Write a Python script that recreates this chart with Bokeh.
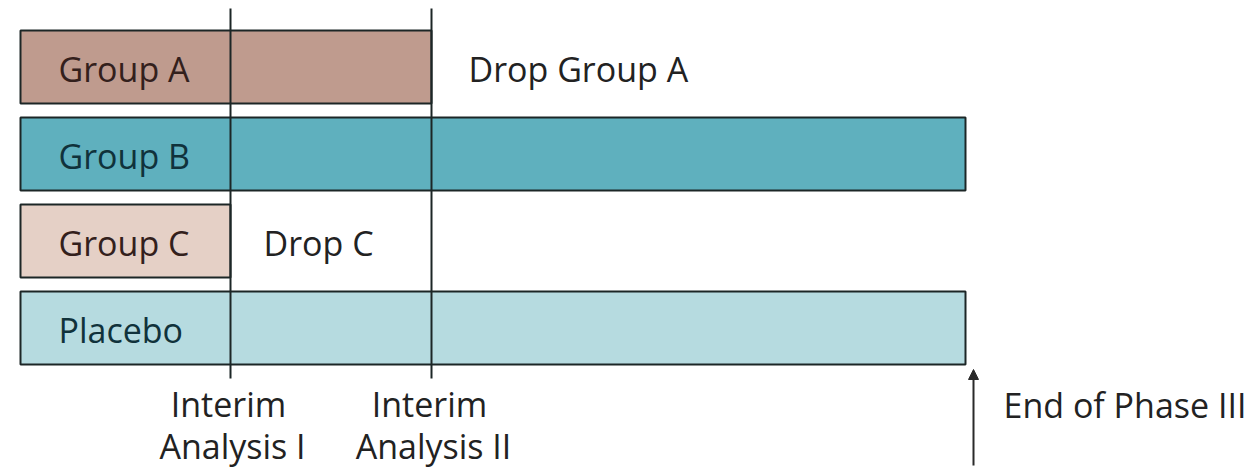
from bokeh.plotting import figure
from bokeh.models import Range1d, ColumnDataSource, Arrow, NormalHead
from bokeh.core.properties import value
from bokeh.embed import file_html
from bokeh.resources import INLINE

# Data (x in timeline units, 0 = start)
groups = ["Group A", "Group B", "Group C", "Placebo"]
starts = [0, 0, 0, 0]
ends = [411, 945, 210, 945]
rows = [66.5, 153.5, 240.5, 327.5]
fills = ["#bf9b8e", "#5fb0be", "#e5d0c6", "#b6dbe0"]
text_colors = ["#33201c", "#10323b", "#33201c", "#10323b"]

interims = [210, 411]
interim_line1 = ["Interim", "Interim"]
interim_line2 = ["Analysis I", "Analysis II"]
end_of_phase = 953
end_label = "End of Phase III"
drop_labels = ["Drop Group A", "Drop C"]
drop_x = [448, 243]
drop_rows = [68, 242]

FONT = value("Open Sans")
FS = "34px"

p = figure(width=1250, height=467, output_backend="svg", toolbar_location=None,
           x_range=Range1d(-20, 1230), y_range=Range1d(467, 0),
           min_border=0, min_border_left=0, min_border_right=0,
           min_border_top=0, min_border_bottom=0)
p.axis.visible = False
p.grid.visible = False
p.outline_line_color = None
p.background_fill_color = "white"
p.border_fill_color = "white"

src = ColumnDataSource(dict(left=starts, right=ends, y=rows, fill=fills,
                            name=groups, tc=text_colors,
                            tx=[s + 38 for s in starts],
                            ty=[r + 1.5 for r in rows]))
p.hbar(y="y", left="left", right="right", height=73, fill_color="fill",
       line_color="#1c2626", line_width=2, source=src)

for xi in interims:
    p.segment(x0=[xi], y0=[8], x1=[xi], y1=[378], line_color="#1c2626", line_width=2)

p.text(x="tx", y="ty", text="name", text_color="tc", source=src,
       text_font=FONT, text_font_size=FS, text_baseline="middle", text_align="left")

p.text(x=drop_x, y=drop_rows, text=drop_labels, text_color="#222222",
       text_font=FONT, text_font_size=FS, text_baseline="middle", text_align="left")

p.text(x=[x - 2 for x in interims], y=[403, 403], text=interim_line1, text_color="#222222",
       text_font=FONT, text_font_size=FS, text_baseline="middle", text_align="center")
p.text(x=[x + 2 for x in interims], y=[445, 445], text=interim_line2, text_color="#222222",
       text_font=FONT, text_font_size=FS, text_baseline="middle", text_align="center")

p.add_layout(Arrow(end=NormalHead(size=10, line_color="#2a2a2a", fill_color="#2a2a2a", line_width=1),
                   x_start=end_of_phase, y_start=465, x_end=end_of_phase, y_end=369,
                   line_color="#2a2a2a", line_width=2))

p.text(x=[end_of_phase + 30], y=[404], text=[end_label], text_color="#222222",
       text_font=FONT, text_font_size=FS, text_baseline="middle", text_align="left")

open("out.html", "w").write(file_html(p, INLINE))
